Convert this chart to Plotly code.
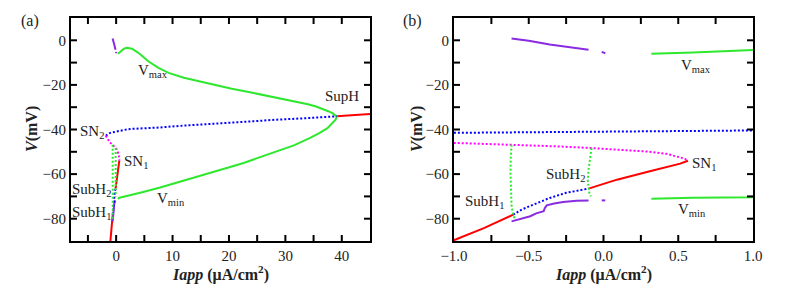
import plotly.graph_objects as go

# ---------------- data (Iapp, V) ----------------
# stable equilibria (red)
red_low_x = [-1.05, -1.0, -0.8, -0.604]
red_low_y = [-91.0, -89.6, -84.2, -78.2]
red_mid_x = [-0.10, 0.09, 0.31, 0.424, 0.513, 0.565]
red_mid_y = [-66.5, -62.5, -58.7, -56.8, -55.3, -54.0]
red_top_x = [39.1, 45.5]
red_top_y = [-34.1, -33.0]

# unstable equilibria (blue dotted)
blue_low_x = [-0.604, -0.55, -0.47, -0.36, -0.25, -0.10]
blue_low_y = [-78.2, -76.0, -73.7, -70.7, -68.4, -66.5]
blue_up_x = [-1.83, -1.6, -1.3, -1.0, -0.5, 0.0, 0.5, 1.0, 2.0, 3.0, 5.0, 7.8, 10.0, 16.7, 22.0, 28.5, 34.0, 39.1]
blue_up_y = [-42.8, -42.2, -41.8, -41.5, -41.2, -41.0, -40.6, -40.2, -39.9, -39.7, -39.5, -39.1, -38.6, -37.4, -36.5, -35.6, -34.9, -34.1]

# saddle branch (magenta dotted)
mag_x = [-1.83, -1.6, -1.3, -1.0, -0.62, -0.3, -0.08, 0.1, 0.3, 0.42, 0.49, 0.54, 0.565]
mag_y = [-42.8, -43.9, -45.0, -46.0, -46.8, -47.6, -48.3, -49.0, -49.9, -50.9, -52.0, -53.0, -54.0]

# stable periodic orbit, Vmax & Vmin (green)
vmax_x = [0.32, 0.6, 1.0, 1.4, 1.9, 2.8, 3.95, 5.7, 7.5, 9.3, 12.0, 14.6, 17.5, 20.5, 23.5, 26.4, 29.5, 32.3, 34.0, 35.3, 36.6, 37.6, 38.4, 38.9, 39.1]
vmax_y = [-6.0, -5.5, -4.4, -3.8, -3.4, -3.8, -5.6, -9.4, -12.4, -14.6, -16.8, -18.4, -20.1, -21.7, -23.2, -24.7, -26.1, -27.6, -28.7, -29.6, -30.7, -31.8, -32.8, -33.6, -34.1]
vmin_x = [39.1, 38.9, 38.3, 37.4, 36.0, 34.4, 31.5, 28.5, 25.5, 22.6, 19.6, 16.7, 13.7, 10.8, 7.8, 4.8, 2.5, 1.0, 0.6, 0.32]
vmin_y = [-34.1, -35.6, -37.3, -39.5, -41.6, -43.8, -47.1, -49.8, -52.5, -55.0, -57.3, -59.5, -61.7, -63.9, -66.0, -68.0, -69.4, -70.1, -70.6, -71.1]

# unstable periodic orbits (green dotted)
ups1_x = [-0.615, -0.62, -0.622, -0.62, -0.615, -0.608, -0.60, -0.595]
ups1_y = [-46.8, -52.0, -60.0, -68.0, -74.0, -77.0, -79.0, -80.0]
ups2_x = [-0.08, -0.09, -0.10, -0.105, -0.10, -0.095, -0.085]
ups2_y = [-48.3, -53.0, -58.0, -63.0, -66.5, -68.5, -70.0]

# other stable periodic orbit (purple)
pur_up_x = [-0.615, -0.5, -0.36, -0.25, -0.10, None, -0.012, 0.012]
pur_up_y = [0.8, -0.2, -1.9, -2.9, -4.2, None, -5.2, -5.8]
pur_lo_x = [-0.615, -0.55, -0.49, -0.45, -0.40, -0.392, -0.38, -0.33, -0.27, -0.18, -0.10, None, -0.012, 0.012]
pur_lo_y = [-81.2, -80.0, -78.9, -77.6, -76.6, -75.2, -74.0, -73.2, -72.5, -72.0, -71.8, None, -71.8, -71.8]

# tick marks (every one) and labelled ticks
xa_ticks = [-5, 0, 5, 10, 15, 20, 25, 30, 35, 40]
xa_labvals = [0, 10, 20, 30, 40]
xa_labtext = ["0", "10", "20", "30", "40"]
xb_ticks = [-0.75, -0.5, -0.25, 0.0, 0.25, 0.5, 0.75]
xb_labvals = [-1.0, -0.5, 0.0, 0.5, 1.0]
xb_labtext = ["\u22121.0", "\u22120.5", "0.0", "0.5", "1.0"]
y_ticks = [-80, -70, -60, -50, -40, -30, -20, -10, 0]
y_labvals = [-80, -60, -40, -20, 0]
y_labtext = ["\u221280", "\u221260", "\u221240", "\u221220", "0"]

# labels
labels_a = [("V<sub>max</sub>", 6.6, -13.9), ("V<sub>min</sub>", 9.8, -71.0), ("SupH", 40.1, -25.1),
            ("SN<sub>2</sub>", -4.3, -41.0), ("SN<sub>1</sub>", 3.6, -54.4),
            ("SubH<sub>2</sub>", -4.3, -67.0), ("SubH<sub>1</sub>", -4.3, -77.5)]
labels_b = [("V<sub>max</sub>", 0.62, -11.3), ("V<sub>min</sub>", 0.59, -76.1), ("SN<sub>1</sub>", 0.674, -55.3),
            ("SubH<sub>2</sub>", -0.253, -60.6), ("SubH<sub>1</sub>", -0.794, -72.6)]

RED = "#ff0000"
BLUE = "#0000ff"
MAG = "#ff00ff"
GREEN = "#2ee82e"
PURPLE = "#8a2be2"
DOT = "2px,2px"
FONT = "Liberation Serif"

fig = go.Figure()

series = [
    (red_low_x, red_low_y, RED, "solid"),
    (red_mid_x, red_mid_y, RED, "solid"),
    (red_top_x, red_top_y, RED, "solid"),
    (vmax_x + vmin_x, vmax_y + vmin_y, GREEN, "solid"),
    (pur_up_x, pur_up_y, PURPLE, "solid"),
    (pur_lo_x, pur_lo_y, PURPLE, "solid"),
    (blue_low_x, blue_low_y, BLUE, DOT),
    (blue_up_x, blue_up_y, BLUE, DOT),
    (mag_x, mag_y, MAG, DOT),
    (ups1_x, ups1_y, GREEN, DOT),
    (ups2_x, ups2_y, GREEN, DOT),
]

for xa, ya in (("x", "y"), ("x2", "y2")):
    for xs, ys, col, dash in series:
        fig.add_trace(go.Scatter(x=xs, y=ys, mode="lines", xaxis=xa, yaxis=ya,
                                 line=dict(color=col, width=2, dash=dash),
                                 showlegend=False, hoverinfo="skip", connectgaps=False))

W, H = 802, 287
PW, PH = 299, 223   # plot-area size in px
TL = 6              # tick length in px
ax_common = dict(showline=True, mirror=True, linecolor="black", linewidth=2,
                 ticks="", showgrid=False, zeroline=False, automargin=False,
                 tickmode="array",
                 tickfont=dict(family=FONT, size=15, color="#222"))

fig.update_layout(
    width=W, height=H, margin=dict(l=0, r=0, t=0, b=0, autoexpand=False),
    paper_bgcolor="white", plot_bgcolor="white",
    xaxis=dict(domain=[71 / W, 370 / W], range=[-8, 45],
               tickvals=xa_labvals, ticktext=xa_labtext, anchor="y", **ax_common),
    yaxis=dict(domain=[1 - 241 / H, 1 - 18 / H], range=[-90, 10],
               tickvals=y_labvals, ticktext=y_labtext, anchor="x", **ax_common),
    xaxis2=dict(domain=[454 / W, 753 / W], range=[-1, 1],
                tickvals=xb_labvals, ticktext=xb_labtext, anchor="y2", **ax_common),
    yaxis2=dict(domain=[1 - 241 / H, 1 - 18 / H], range=[-90, 10],
                tickvals=y_labvals, ticktext=y_labtext, anchor="x2", **ax_common),
)

# inside tick marks on all four sides, positioned through the axes
tick_line = dict(color="black", width=2)
for xr, yr, xt in (("x", "y", xa_ticks), ("x2", "y2", xb_ticks)):
    for v in xt:
        fig.add_shape(type="line", xref=xr, yref=yr + " domain", x0=v, x1=v, y0=0, y1=TL / PH,
                      line=tick_line, layer="above")
        fig.add_shape(type="line", xref=xr, yref=yr + " domain", x0=v, x1=v, y0=1, y1=1 - TL / PH,
                      line=tick_line, layer="above")
    for v in y_ticks:
        fig.add_shape(type="line", xref=xr + " domain", yref=yr, y0=v, y1=v, x0=0, x1=TL / PW,
                      line=tick_line, layer="above")
        fig.add_shape(type="line", xref=xr + " domain", yref=yr, y0=v, y1=v, x0=1, x1=1 - TL / PW,
                      line=tick_line, layer="above")

ann = []
for txt, x, y in labels_a:
    ann.append(dict(text=txt, x=x, y=y, xref="x", yref="y", showarrow=False,
                    font=dict(family=FONT, size=15, color="#222")))
for txt, x, y in labels_b:
    ann.append(dict(text=txt, x=x, y=y, xref="x2", yref="y2", showarrow=False,
                    font=dict(family=FONT, size=15, color="#222")))

xtitle = "<b><i>Iapp</i> (μA/cm<sup>2</sup>)</b>"
ytitle = "<b><i>V</i>(mV)</b>"
for cx in (220.5, 603.5):
    ann.append(dict(text=xtitle, x=cx / W, y=1 - 273 / H, xref="paper", yref="paper",
                    showarrow=False, xanchor="center", yanchor="middle",
                    font=dict(family=FONT, size=16, color="#222")))
for cx in (32, 417):
    ann.append(dict(text=ytitle, x=cx / W, y=1 - 129 / H, xref="paper", yref="paper",
                    showarrow=False, xanchor="center", yanchor="middle", textangle=-90,
                    font=dict(family=FONT, size=16, color="#222")))
for txt, cx in (("(a)", 30), ("(b)", 413)):
    ann.append(dict(text=txt, x=cx / W, y=1 - 21 / H, xref="paper", yref="paper",
                    showarrow=False, xanchor="center", yanchor="middle",
                    font=dict(family=FONT, size=16, color="#222")))
fig.update_layout(annotations=ann)

fig.write_html("out.html", config={"displayModeBar": False},
               post_script="document.body.style.margin='0';document.body.style.overflow='hidden';")
